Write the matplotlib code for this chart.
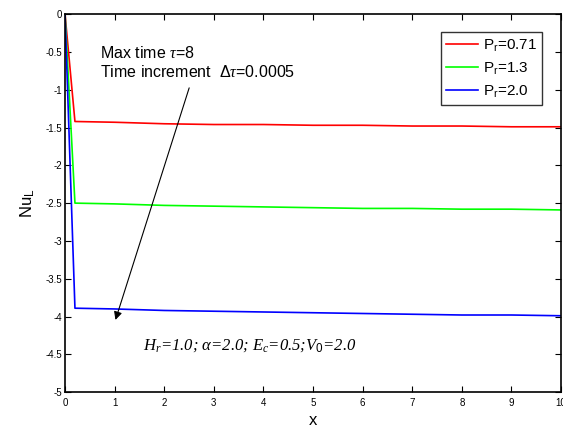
import matplotlib
matplotlib.use("Agg")
import matplotlib.pyplot as plt

plt.rcParams['font.family'] = ['Liberation Sans', 'DejaVu Sans']
plt.rcParams['mathtext.fontset'] = 'custom'
plt.rcParams['mathtext.rm'] = 'Liberation Sans'
plt.rcParams['mathtext.it'] = 'Liberation Serif:italic'

# Nusselt number along x for three Prandtl numbers
x = [0, 0.2, 1, 2, 3, 4, 5, 6, 7, 8, 9, 10]
nu_071 = [0, -1.42, -1.43, -1.45, -1.46, -1.46, -1.47, -1.47, -1.48, -1.48, -1.49, -1.49]
nu_13 = [0, -2.50, -2.51, -2.53, -2.54, -2.55, -2.56, -2.57, -2.57, -2.58, -2.58, -2.59]
nu_20 = [0, -3.89, -3.90, -3.92, -3.93, -3.94, -3.95, -3.96, -3.97, -3.98, -3.98, -3.99]
labels = [r'P$_\mathregular{r}$=0.71', r'P$_\mathregular{r}$=1.3', r'P$_\mathregular{r}$=2.0']
colors = ['#ff0000', '#00ff00', '#0000ff']

fig = plt.figure(figsize=(5.63, 4.29), dpi=100)
ax = fig.add_axes([0.1155, 0.086, 0.881, 0.881])

for y, lab, c in zip([nu_071, nu_13, nu_20], labels, colors):
    ax.plot(x, y, color=c, lw=1.2, label=lab)

ax.set_xlim(0, 10)
ax.set_ylim(-5, 0)
ax.set_xticks(range(0, 11))
ax.set_yticks([-5, -4.5, -4, -3.5, -3, -2.5, -2, -1.5, -1, -0.5, 0])
ax.set_yticklabels(['-5', '-4.5', '-4', '-3.5', '-3', '-2.5', '-2', '-1.5', '-1', '-0.5', '0'])
ax.tick_params(direction='in', top=True, right=True, labelsize=7, length=4, width=0.8, pad=2)
ax.tick_params(axis='x', pad=4)
for s in ax.spines.values():
    s.set_linewidth(1.2)

ax.set_xlabel('x', fontsize=12, labelpad=4)
ax.set_ylabel(r'Nu$_\mathregular{L}$', fontsize=12, labelpad=6)

leg = ax.legend(loc='upper right', fontsize=11, fancybox=False, edgecolor='black',
                handlelength=2.1, handletextpad=0.3, borderpad=0.35, labelspacing=0.45,
                bbox_to_anchor=(0.978, 0.972))
leg.get_frame().set_linewidth(1.0)

ax.text(0.71, -0.52, r'Max time $\tau$=8', fontsize=11.5, va='center')
ax.text(0.71, -0.77, r'Time increment  $\Delta\tau$=0.0005', fontsize=11.5, va='center')

ax.annotate('', xy=(1.0, -4.08), xytext=(2.52, -0.94),
            arrowprops=dict(arrowstyle='-|>', color='black', lw=0.8, mutation_scale=12))

ax.text(1.57, -4.38, r'$H_r$=1.0; $\alpha$=2.0; $E_c$=0.5;$V_0$=2.0',
        fontsize=12, va='center', family='Liberation Serif', style='italic')

fig.savefig('out.png', dpi=100)
